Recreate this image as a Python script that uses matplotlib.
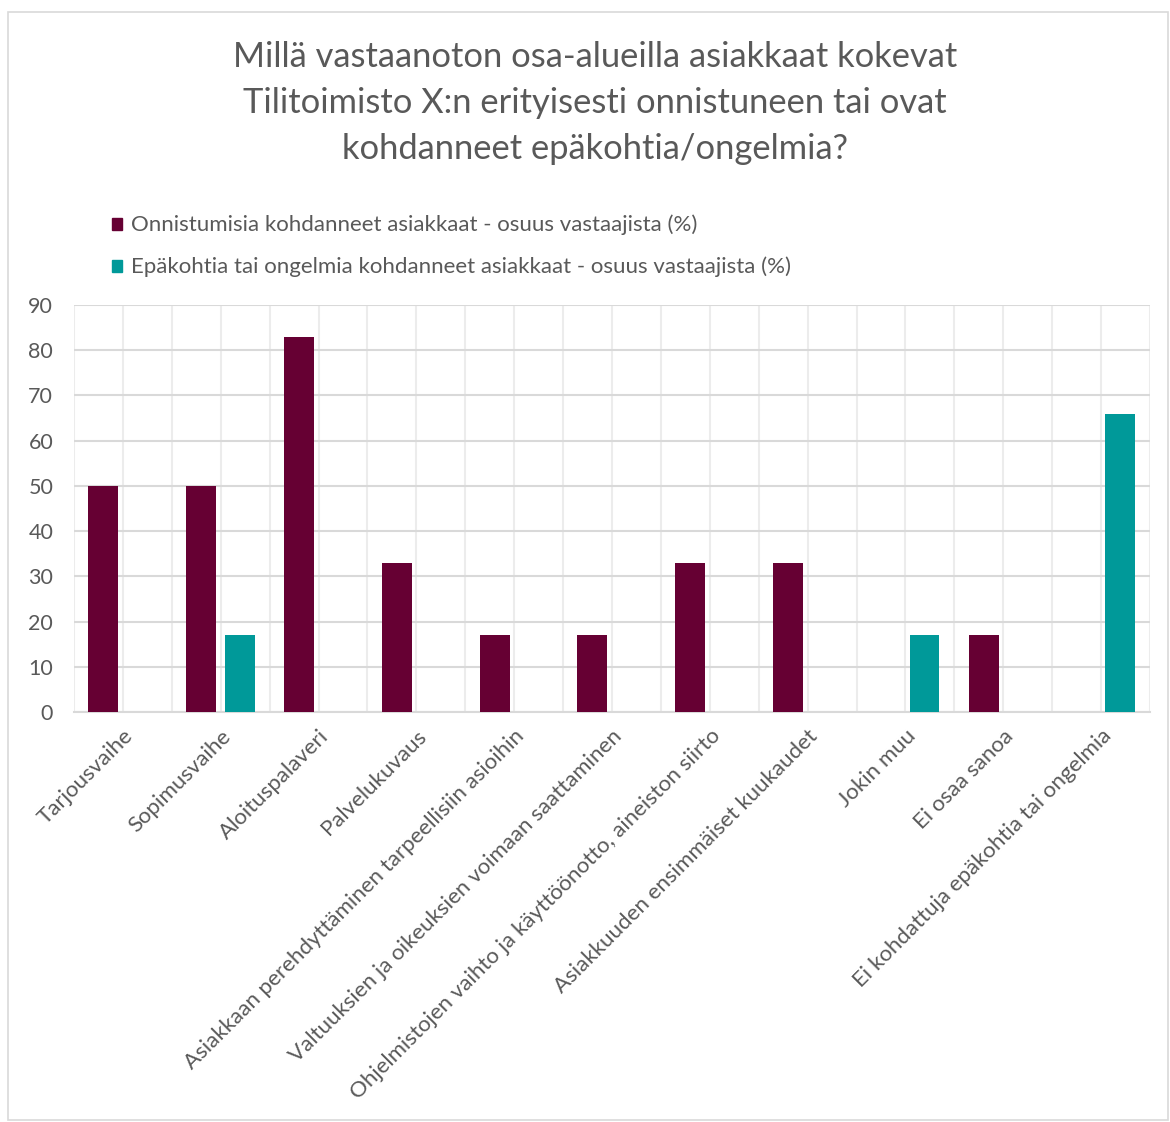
import matplotlib
matplotlib.use("Agg")
import matplotlib.pyplot as plt
import matplotlib.transforms as mtransforms
import numpy as np
from matplotlib.patches import Rectangle

categories = ["Tarjousvaihe", "Sopimusvaihe", "Aloituspalaveri", "Palvelukuvaus",
              "Asiakkaan perehdyttäminen tarpeellisiin asioihin",
              "Valtuuksien ja oikeuksien voimaan saattaminen",
              "Ohjelmistojen vaihto ja käyttöönotto, aineiston siirto",
              "Asiakkuuden ensimmäiset kuukaudet", "Jokin muu", "Ei osaa sanoa",
              "Ei kohdattuja epäkohtia tai ongelmia"]
onnistumiset = [50, 50, 83, 33, 17, 17, 33, 33, 0, 17, 0]
epakohdat = [0, 17, 0, 0, 0, 0, 0, 0, 17, 0, 66]
series_names = ["Onnistumisia kohdanneet asiakkaat - osuus vastaajista (%)",
                "Epäkohtia tai ongelmia kohdanneet asiakkaat - osuus vastaajista (%)"]
title = "Millä vastaanoton osa-alueilla asiakkaat kokevat\nTilitoimisto X:n erityisesti onnistuneen tai ovat\nkohdanneet epäkohtia/ongelmia?"

c1 = "#660033"
c2 = "#009999"
tc = "#595959"
plt.rcParams['font.family'] = ['Lato', 'DejaVu Sans']

W, H = 1170, 1122
fig = plt.figure(figsize=(W/100, H/100), dpi=100)
fig.patches.append(Rectangle((8/W, 2/H), (W-10)/W, (H-14)/H, transform=fig.transFigure,
                             fill=False, edgecolor="#d9d9d9", lw=1.2))

ax = fig.add_axes([74/W, 1-712/H, (1150-74)/W, (712-305)/H])
x = np.arange(len(categories))
bw = 0.306
ax.bar(x - 0.2, onnistumiset, bw, color=c1, label=series_names[0], zorder=3)
ax.bar(x + 0.195, epakohdat, bw, color=c2, label=series_names[1], zorder=3)
ax.set_xlim(-0.5, len(categories) - 0.5)
ax.set_ylim(0, 90)
ax.set_yticks(range(0, 91, 10))
ax.yaxis.grid(True, color="#d9d9d9", lw=1.5, zorder=0)
for v in np.arange(-0.5, len(categories), 0.5):
    ax.axvline(v, color="#ececec", lw=1.5, zorder=0)
ax.set_xticks(x)
ax.set_xticklabels(categories, rotation=45, ha="right", rotation_mode="anchor",
                   fontsize=16, color=tc)
off = mtransforms.ScaledTranslation(-9/100, -6/100, fig.dpi_scale_trans)
for lab in ax.get_xticklabels():
    lab.set_transform(lab.get_transform() + off)
ax.tick_params(axis="x", length=0, pad=10)
ax.tick_params(axis="y", length=0, labelsize=15.5, labelcolor=tc, pad=15)
for s in ["top", "right", "left"]:
    ax.spines[s].set_visible(False)
ax.spines["bottom"].set_color("#d9d9d9")
ax.spines["bottom"].set_linewidth(1.5)

fig.text(595/W, 1-103/H, title, ha="center", va="center", fontsize=24.8,
         color=tc, linespacing=1.55)

for i, (name, col) in enumerate(zip(series_names, [c1, c2])):
    yy = 225 + i * 42
    fig.patches.append(Rectangle((112/W, 1-(yy+5)/H), 10/W, 12/H,
                                 transform=fig.transFigure, color=col))
    fig.text(131/W, 1-yy/H, name, ha="left", va="center", fontsize=16, color=tc)

fig.savefig("out.png", dpi=100)
